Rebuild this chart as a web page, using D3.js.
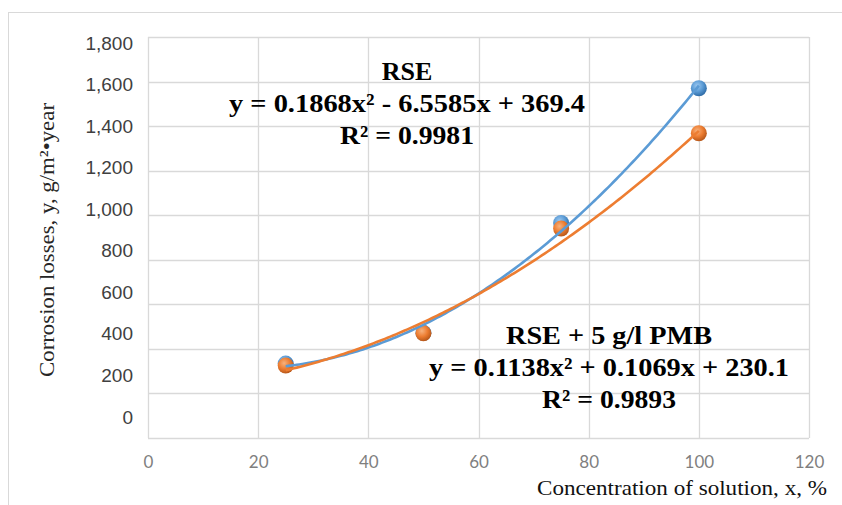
<!DOCTYPE html>
<html>
<head>
<meta charset="utf-8">
<script src="https://cdn.jsdelivr.net/npm/d3@7"></script>
<style>
  body { margin: 0; background: #fff; }
  svg { display: block; }
</style>
</head>
<body>
<div id="chart"></div>
<script>
// data
var concentration = [25, 50, 75, 100];
var rseLosses = [334, 472, 965, 1570];
var pmbLosses = [325, 470, 940, 1368];

// trendline coefficients as printed on the chart [a, b, c]
var rseFit = [0.1868, -6.5585, 369.4];
var pmbFit = [0.1138, 0.1069, 230.1];

var xTicks = [0, 20, 40, 60, 80, 100, 120];
var yTicks = [0, 200, 400, 600, 800, 1000, 1200, 1400, 1600, 1800];

var svgWidth = 842;
var svgHeight = 505;

// plot area
var plot = { left: 148, right: 809, top: 37, bottom: 438 };

var svg = d3.select("#chart").append("svg")
  .attr("width", svgWidth)
  .attr("height", svgHeight);

// outer chart frame
svg.append("rect")
  .attr("x", 8.5).attr("y", 12.5)
  .attr("width", 840).attr("height", 520)
  .attr("fill", "none")
  .attr("stroke", "#d9d9d9");

var x = d3.scaleLinear().domain([0, 120]).range([plot.left, plot.right]);
var y = d3.scaleLinear().domain([0, 1800]).range([plot.bottom, plot.top]);
// the value labels sit a little off the gridlines in the original
var yLabel = d3.scaleLinear().domain([0, 1800]).range([417, 43]);

// gradients for the glossy markers
var defs = svg.append("defs");
function gloss(id, light, base, dark) {
  var g = defs.append("radialGradient").attr("id", id)
    .attr("cx", "40%").attr("cy", "35%").attr("r", "65%");
  g.append("stop").attr("offset", "0%").attr("stop-color", light);
  g.append("stop").attr("offset", "55%").attr("stop-color", base);
  g.append("stop").attr("offset", "100%").attr("stop-color", dark);
}
gloss("blueGloss", "#9cc8f0", "#5b9bd5", "#2f6da8");
gloss("orangeGloss", "#f7b27e", "#ed7d31", "#b8581a");

// gridlines
svg.append("g").selectAll("line").data(yTicks).enter()
  .append("line")
  .attr("x1", plot.left).attr("x2", plot.right)
  .attr("y1", d => Math.round(y(d)) + 0.5).attr("y2", d => Math.round(y(d)) + 0.5)
  .attr("stroke", "#d9d9d9").attr("stroke-width", 1.3);

svg.append("g").selectAll("line").data(xTicks).enter()
  .append("line")
  .attr("x1", d => Math.round(x(d)) + 0.5).attr("x2", d => Math.round(x(d)) + 0.5)
  .attr("y1", plot.top).attr("y2", plot.bottom)
  .attr("stroke", "#d9d9d9").attr("stroke-width", 1.3);

// axis labels
var yAxis = d3.axisLeft(yLabel).tickValues(yTicks).tickSize(0).tickPadding(0)
  .tickFormat(d3.format(","));
var yAxisG = svg.append("g")
  .attr("transform", "translate(133,0)")
  .call(yAxis);
yAxisG.select(".domain").remove();
yAxisG.selectAll("text")
  .attr("font-family", "Liberation Sans, Arial, sans-serif")
  .attr("font-size", "19px")
  .attr("fill", "#404040");

var xAxis = d3.axisBottom(x).tickValues(xTicks).tickSize(0).tickPadding(0);
var xAxisG = svg.append("g")
  .attr("transform", "translate(0,456)")
  .call(xAxis);
xAxisG.select(".domain").remove();
xAxisG.selectAll("text")
  .attr("font-family", "Lato, sans-serif")
  .attr("font-size", "17px")
  .attr("fill", "#7f7f7f");

// axis titles
svg.append("text")
  .attr("transform", "translate(54,240) rotate(-90)")
  .attr("text-anchor", "middle")
  .attr("font-family", "Liberation Serif, Times New Roman, serif")
  .attr("font-size", "21px")
  .attr("fill", "#262626")
  .attr("textLength", 274)
  .attr("lengthAdjust", "spacingAndGlyphs")
  .text("Corrosion losses, y, g/m²•year");

svg.append("text")
  .attr("x", 682).attr("y", 495)
  .attr("text-anchor", "middle")
  .attr("font-family", "Liberation Serif, Times New Roman, serif")
  .attr("font-size", "21px")
  .attr("fill", "#111")
  .attr("textLength", 290)
  .attr("lengthAdjust", "spacingAndGlyphs")
  .text("Concentration of solution, x, %");

// markers
function drawPoints(values, fill) {
  svg.append("g").selectAll("circle").data(values).enter()
    .append("circle")
    .attr("cx", (d, i) => x(concentration[i]))
    .attr("cy", d => y(d))
    .attr("r", 8)
    .attr("fill", fill);
}
drawPoints(rseLosses, "url(#blueGloss)");
drawPoints(pmbLosses, "url(#orangeGloss)");

// polynomial trendlines
function trend(c) {
  var pts = d3.range(25, 100.01, 0.5).map(v => [v, c[0] * v * v + c[1] * v + c[2]]);
  return d3.line().x(d => x(d[0])).y(d => y(d[1]))(pts);
}
svg.append("path").attr("d", trend(rseFit))
  .attr("fill", "none").attr("stroke", "#5b9bd5").attr("stroke-width", 2.6);
svg.append("path").attr("d", trend(pmbFit))
  .attr("fill", "none").attr("stroke", "#ed7d31").attr("stroke-width", 2.6);

// trendline labels; widths stretched to the original's
function label(lines, widths, cx, cy) {
  var t = svg.append("text")
    .attr("text-anchor", "middle")
    .attr("font-family", "Liberation Serif, Times New Roman, serif")
    .attr("font-weight", "bold")
    .attr("font-size", "26px")
    .attr("fill", "#000");
  lines.forEach(function(l, i) {
    var s = t.append("tspan").attr("x", cx).attr("y", cy + i * 32).text(l);
    if (widths[i]) s.attr("textLength", widths[i]).attr("lengthAdjust", "spacingAndGlyphs");
  });
}
label(["RSE", "y = 0.1868x² - 6.5585x + 369.4", "R² = 0.9981"], [0, 356, 134], 407, 80);
label(["RSE + 5 g/l PMB", "y = 0.1138x² + 0.1069x + 230.1", "R² = 0.9893"], [206, 360, 134], 609, 344);
</script>
</body>
</html>
